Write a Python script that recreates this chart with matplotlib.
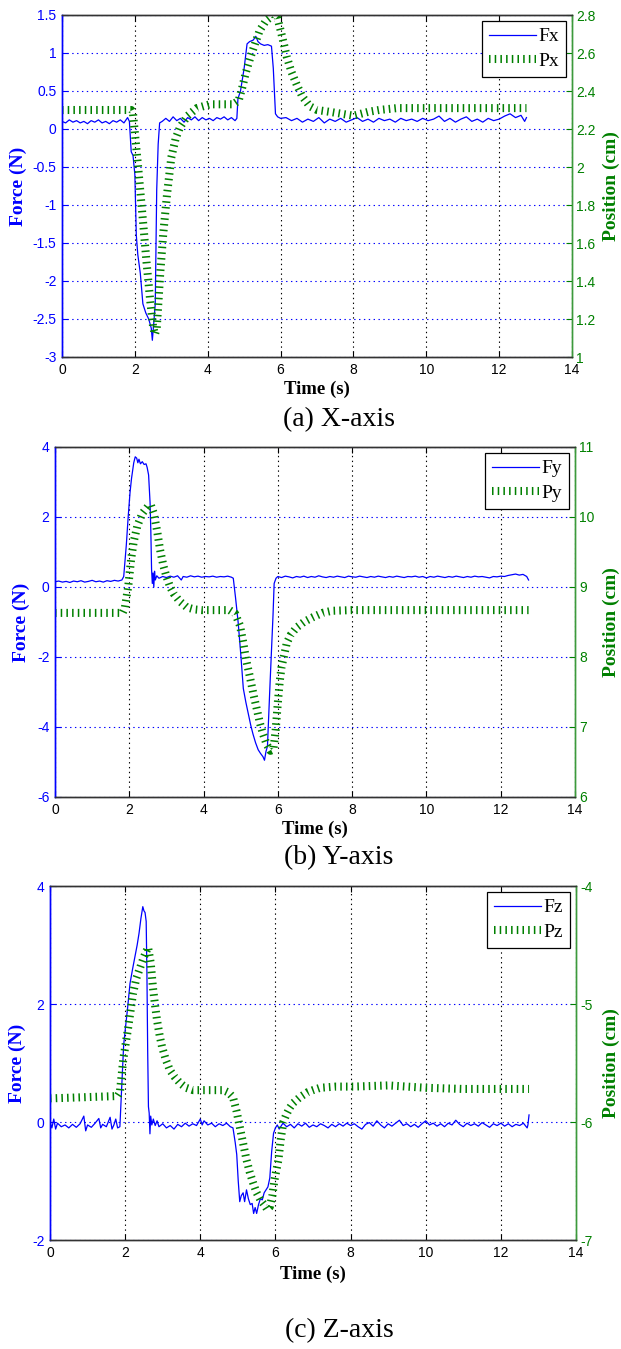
import matplotlib
matplotlib.use("Agg")
import matplotlib.pyplot as plt
from matplotlib.ticker import FuncFormatter
from matplotlib.lines import Line2D

plt.rcParams['axes.unicode_minus'] = False
plt.rcParams['lines.scale_dashes'] = False

# ---------------- data ----------------
time_ticks = [0, 2, 4, 6, 8, 10, 12, 14]

# (a) X-axis
fx_t = [0.00, 0.10, 0.20, 0.30, 0.40, 0.50, 0.60, 0.70, 0.80, 0.90, 1.00, 1.10, 1.20, 1.30, 1.40, 1.50,
        1.60, 1.70, 1.80, 1.85, 1.90, 1.95, 2.00, 2.04, 2.08, 2.15, 2.22, 2.30, 2.38, 2.45, 2.48, 2.52,
        2.56, 2.60, 2.64, 2.68, 2.75, 2.85, 2.95, 3.05, 3.15, 3.25, 3.35, 3.45, 3.55, 3.65, 3.75, 3.85,
        3.95, 4.05, 4.15, 4.25, 4.35, 4.45, 4.55, 4.65, 4.75, 4.80, 4.83, 4.90, 5.00, 5.08, 5.15, 5.25,
        5.32, 5.38, 5.45, 5.55, 5.65, 5.75, 5.80, 5.86, 5.92, 6.00, 6.15, 6.30, 6.45, 6.60, 6.75, 6.90,
        7.05, 7.20, 7.35, 7.50, 7.65, 7.80, 7.95, 8.10, 8.25, 8.40, 8.55, 8.70, 8.85, 9.00, 9.15, 9.30,
        9.45, 9.60, 9.75, 9.90, 10.05, 10.20, 10.35, 10.50, 10.65, 10.80, 10.95, 11.10, 11.25, 11.40,
        11.55, 11.70, 11.85, 12.00, 12.15, 12.30, 12.45, 12.60, 12.70, 12.75]
fx_v = [0.10, 0.08, 0.12, 0.09, 0.11, 0.08, 0.10, 0.07, 0.11, 0.09, 0.12, 0.08, 0.10, 0.07, 0.11, 0.09,
        0.12, 0.08, 0.15, 0.10, -0.30, -0.35, -0.60, -1.40, -1.65, -1.90, -2.30, -2.42, -2.50, -2.62, -2.78, -2.55,
        -2.30, -0.80, -0.20, 0.08, 0.10, 0.14, 0.10, 0.16, 0.11, 0.14, 0.09, 0.15, 0.12, 0.16, 0.11, 0.15,
        0.12, 0.14, 0.11, 0.15, 0.13, 0.16, 0.12, 0.15, 0.11, 0.14, 0.40, 0.50, 0.80, 1.12, 1.15, 1.17,
        1.22, 1.15, 1.12, 1.10, 1.11, 1.09, 0.80, 0.20, 0.16, 0.14, 0.15, 0.11, 0.14, 0.09, 0.13, 0.10,
        0.15, 0.08, 0.13, 0.10, 0.14, 0.09, 0.12, 0.15, 0.10, 0.13, 0.09, 0.14, 0.11, 0.13, 0.09, 0.14,
        0.11, 0.13, 0.10, 0.14, 0.11, 0.13, 0.17, 0.10, 0.14, 0.09, 0.13, 0.16, 0.10, 0.13,
        0.09, 0.14, 0.11, 0.13, 0.17, 0.20, 0.15, 0.18, 0.10, 0.15]
px_t = [0.00, 1.90, 1.95, 2.00, 2.09, 2.16, 2.23, 2.32, 2.42, 2.50, 2.55, 2.60, 2.65, 2.70, 2.78, 2.88,
        3.00, 3.12, 3.24, 3.45, 3.70, 4.06, 4.70, 4.85, 4.95, 5.05, 5.16, 5.30, 5.43, 5.60, 5.80, 5.92,
        6.00, 6.10, 6.17, 6.30, 6.45, 6.60, 6.80, 7.00, 7.36, 8.00, 8.40, 8.70, 9.20, 9.75, 12.75]
px_v = [2.30, 2.30, 2.28, 2.18, 2.00, 1.85, 1.70, 1.50, 1.30, 1.16, 1.12, 1.15, 1.30, 1.45, 1.65, 1.85,
        2.05, 2.15, 2.21, 2.27, 2.31, 2.33, 2.33, 2.35, 2.42, 2.50, 2.57, 2.65, 2.72, 2.77, 2.80, 2.78,
        2.72, 2.64, 2.58, 2.50, 2.43, 2.37, 2.32, 2.30, 2.29, 2.27, 2.29, 2.30, 2.31, 2.31, 2.31]

# (b) Y-axis
fy_t = [0.0, 0.1, 0.2, 0.3, 0.4, 0.5, 0.6, 0.7, 0.8, 0.9, 1.0, 1.1, 1.2, 1.3, 1.4, 1.5, 1.6, 1.7, 1.8,
        1.85, 1.92, 1.97, 2.02, 2.06, 2.12, 2.16, 2.20, 2.23, 2.26, 2.30, 2.35, 2.40, 2.45, 2.48, 2.52,
        2.56, 2.58, 2.60, 2.62, 2.64, 2.66, 2.68, 2.70, 2.74, 2.80, 2.90, 3.00, 3.10, 3.20, 3.30, 3.40,
        3.45, 3.55, 3.65, 3.75, 3.85, 3.95, 4.05, 4.15, 4.25, 4.35, 4.45, 4.55, 4.65, 4.75, 4.80, 4.86,
        4.93, 5.00, 5.07, 5.14, 5.20, 5.27, 5.33, 5.40, 5.47, 5.53, 5.60, 5.64, 5.68, 5.72, 5.76, 5.79,
        5.84, 5.87, 5.90, 5.95, 6.00, 6.1, 6.2, 6.3, 6.4, 6.5, 6.6, 6.7, 6.8, 6.9, 7.0, 7.1, 7.2, 7.3,
        7.4, 7.5, 7.6, 7.7, 7.8, 7.9, 8.0, 8.1, 8.2, 8.3, 8.4, 8.5, 8.6, 8.7, 8.8, 8.9, 9.0, 9.1, 9.2,
        9.3, 9.4, 9.5, 9.6, 9.7, 9.8, 9.9, 10.0, 10.1, 10.2, 10.3, 10.4, 10.5, 10.6, 10.7, 10.8, 10.9,
        11.0, 11.1, 11.2, 11.3, 11.4, 11.5, 11.6, 11.7, 11.8, 11.9, 12.0, 12.1, 12.2, 12.3, 12.4, 12.5,
        12.6, 12.7, 12.75]
fy_v = [0.15, 0.17, 0.14, 0.16, 0.13, 0.17, 0.15, 0.18, 0.14, 0.16, 0.19, 0.15, 0.17, 0.14, 0.18, 0.16, 0.19, 0.17, 0.20,
        0.30, 1.20, 2.00, 2.70, 3.10, 3.55, 3.72, 3.68, 3.55, 3.65, 3.52, 3.58, 3.50, 3.52, 3.42, 3.20,
        2.40, 1.60, 0.50, 0.10, 0.40, 0.00, 0.45, 0.20, 0.32, 0.25, 0.30, 0.27, 0.31, 0.28, 0.32, 0.20,
        0.30, 0.28, 0.32, 0.29, 0.31, 0.28, 0.30, 0.29, 0.31, 0.28, 0.30, 0.29, 0.31, 0.28, 0.25, -0.30,
        -1.00, -1.90, -2.90, -3.30, -3.60, -3.95, -4.20, -4.45, -4.65, -4.75, -4.85, -4.95, -4.70, -4.55, -3.50, -2.75,
        -1.50, -0.80, 0.10, 0.25, 0.30, 0.27, 0.31, 0.29, 0.26, 0.30, 0.28, 0.31, 0.27, 0.30, 0.28, 0.32, 0.29, 0.27,
        0.30, 0.28, 0.31, 0.29, 0.27, 0.31, 0.29, 0.28, 0.31, 0.29, 0.27, 0.30, 0.28, 0.31, 0.29, 0.27, 0.30, 0.28, 0.31,
        0.29, 0.27, 0.30, 0.29, 0.31, 0.28, 0.30, 0.26, 0.30, 0.28, 0.31, 0.29, 0.27, 0.30, 0.28, 0.31, 0.29,
        0.27, 0.30, 0.28, 0.31, 0.29, 0.30, 0.28, 0.26, 0.30, 0.29, 0.31, 0.30, 0.33, 0.35, 0.37, 0.34,
        0.36, 0.30, 0.20]
py_t = [0.00, 1.82, 1.88, 1.97, 2.05, 2.12, 2.22, 2.35, 2.50, 2.58, 2.66, 2.75, 2.83, 2.92, 3.00, 3.10,
        3.20, 3.35, 3.55, 3.75, 3.95, 4.70, 4.85, 4.98, 5.07, 5.15, 5.25, 5.35, 5.44, 5.52, 5.60, 5.70,
        5.80, 5.88, 5.94, 6.00, 6.05, 6.10, 6.18, 6.24, 6.35, 6.50, 6.70, 6.95, 7.20, 7.45, 8.00, 12.75]
py_v = [8.63, 8.63, 8.70, 9.00, 9.40, 9.65, 9.88, 10.05, 10.15, 10.17, 10.05, 9.80, 9.53, 9.30, 9.15, 9.00,
        8.90, 8.80, 8.71, 8.68, 8.67, 8.67, 8.62, 8.45, 8.20, 7.95, 7.71, 7.45, 7.24, 7.05, 6.90, 6.75,
        6.66, 6.68, 6.95, 7.35, 7.65, 7.86, 8.05, 8.20, 8.32, 8.42, 8.50, 8.57, 8.63, 8.66, 8.67, 8.67]

# (c) Z-axis
fz_t = [0.00, 0.05, 0.10, 0.15, 0.20, 0.30, 0.40, 0.50, 0.60, 0.70, 0.80, 0.90, 0.95, 1.00, 1.10, 1.20,
        1.30, 1.35, 1.40, 1.50, 1.60, 1.65, 1.70, 1.75, 1.80, 1.86, 1.91, 1.96, 2.00, 2.06, 2.13, 2.20,
        2.26, 2.32, 2.37, 2.42, 2.47, 2.50, 2.53, 2.56, 2.58, 2.60, 2.62, 2.64, 2.66, 2.68, 2.71, 2.75,
        2.80, 2.85, 2.90, 3.00, 3.10, 3.20, 3.30, 3.40, 3.50, 3.60, 3.70, 3.80, 3.90, 4.00, 4.05, 4.10,
        4.20, 4.30, 4.40, 4.50, 4.60, 4.70, 4.80, 4.87, 4.93, 4.97, 5.01, 5.05, 5.09, 5.14, 5.18, 5.23,
        5.28, 5.33, 5.38, 5.42, 5.46, 5.50, 5.55, 5.60, 5.65, 5.70, 5.75, 5.80, 5.85, 5.90, 5.95, 6.00,
        6.05, 6.1, 6.2, 6.3, 6.4, 6.5, 6.6, 6.7, 6.8, 6.9, 7.0, 7.1, 7.2, 7.3, 7.4, 7.5, 7.6, 7.7, 7.8,
        7.9, 8.0, 8.1, 8.2, 8.3, 8.4, 8.5, 8.6, 8.7, 8.8, 8.9, 9.0, 9.1, 9.2, 9.3, 9.4, 9.5, 9.6, 9.7,
        9.8, 9.9, 10.0, 10.1, 10.2, 10.3, 10.4, 10.5, 10.6, 10.7, 10.8, 10.9, 11.0, 11.1, 11.2, 11.3,
        11.4, 11.5, 11.6, 11.7, 11.8, 11.9, 12.0, 12.1, 12.2, 12.3, 12.4, 12.5, 12.6, 12.7, 12.72, 12.75]
fz_v = [0.00, -0.10, 0.05, -0.12, -0.02, -0.08, -0.05, -0.10, -0.04, -0.09, -0.03, 0.10, -0.15, -0.05, -0.09, -0.02,
        0.06, -0.10, -0.04, -0.08, 0.08, -0.12, -0.05, 0.05, -0.10, -0.08, 0.60, 1.30, 1.55, 1.90, 2.35, 2.60,
        2.80, 3.00, 3.20, 3.45, 3.65, 3.58, 3.55, 3.40, 2.50, 1.20, 0.26, 0.15, -0.20, 0.10, -0.05, 0.05,
        -0.06, 0.02, -0.08, -0.03, -0.10, -0.06, -0.12, -0.04, -0.08, -0.02, -0.07, -0.03, -0.06, 0.05, -0.05, 0.02,
        -0.05, -0.02, -0.08, -0.03, -0.06, -0.02, -0.08, -0.10, -0.35, -0.55, -1.00, -1.35, -1.25, -1.20, -1.35, -1.15,
        -1.30, -1.40, -1.38, -1.55, -1.45, -1.55, -1.40, -1.30, -1.32, -1.20, -1.15, -1.10, -0.95, -0.50, -0.19, -0.10,
        -0.05, -0.12, -0.02, -0.08, -0.04, -0.10, -0.03, -0.07, -0.02, -0.09, -0.05, -0.08, -0.03, -0.06, -0.10, -0.04, -0.08, -0.03, -0.07,
        -0.02, -0.06, -0.03, -0.08, -0.12, -0.04, -0.01, -0.07, 0.02, -0.05, -0.10, -0.03, -0.07, -0.02, 0.03, -0.06, -0.03, -0.08, -0.04,
        -0.09, -0.03, 0.02, -0.05, -0.02, -0.07, -0.03, -0.08, -0.02, -0.05, 0.03, -0.04, -0.08, -0.02, -0.06, -0.03,
        -0.07, -0.01, -0.05, -0.09, -0.03, -0.06, -0.02, -0.07, -0.03, -0.08, -0.04, -0.06, -0.02, -0.10, -0.05, 0.12]
pz_t = [0.00, 1.80, 1.86, 1.95, 2.08, 2.21, 2.30, 2.40, 2.50, 2.61, 2.68, 2.74, 2.80, 2.85, 2.92, 2.98,
        3.08, 3.19, 3.32, 3.46, 3.62, 3.81, 4.61, 4.75, 4.87, 4.96, 5.05, 5.14, 5.23, 5.32, 5.41, 5.50,
        5.60, 5.70, 5.78, 5.85, 5.92, 5.97, 6.03, 6.08, 6.14, 6.21, 6.30, 6.38, 6.47, 6.65, 6.84, 7.00,
        7.19, 7.60, 8.07, 9.00, 10.00, 11.00, 12.75]
pz_v = [-5.80, -5.78, -5.75, -5.47, -5.20, -4.91, -4.78, -4.69, -4.60, -4.52, -4.65, -4.86, -5.02, -5.14, -5.27, -5.36,
        -5.47, -5.56, -5.62, -5.67, -5.71, -5.73, -5.73, -5.75, -5.79, -5.90, -6.04, -6.18, -6.32, -6.43, -6.52, -6.60,
        -6.66, -6.70, -6.74, -6.72, -6.62, -6.50, -6.40, -6.32, -6.15, -6.00, -5.93, -5.88, -5.84, -5.79, -5.75, -5.73,
        -5.71, -5.70, -5.70, -5.69, -5.71, -5.72, -5.72]

panels = [
    dict(ft=fx_t, fv=fx_v, pt=px_t, pv=px_v, fname='Fx', pname='Px',
         flim=(-3, 1.5), fticks=[-3, -2.5, -2, -1.5, -1, -0.5, 0, 0.5, 1, 1.5],
         plim=(1, 2.8), pticks=[1, 1.2, 1.4, 1.6, 1.8, 2, 2.2, 2.4, 2.6, 2.8],
         caption='(a) X-axis', box=(62, 15, 572, 357), cap_y=420,
         flab_x=18, plab_x=611, xlab_top=381),
    dict(ft=fy_t, fv=fy_v, pt=py_t, pv=py_v, fname='Fy', pname='Py',
         flim=(-6, 4), fticks=[-6, -4, -2, 0, 2, 4],
         plim=(6, 11), pticks=[6, 7, 8, 9, 10, 11],
         caption='(b) Y-axis', box=(55, 447, 575, 797), cap_y=858,
         flab_x=21, plab_x=611, xlab_top=821),
    dict(ft=fz_t, fv=fz_v, pt=pz_t, pv=pz_v, fname='Fz', pname='Pz',
         flim=(-2, 4), fticks=[-2, 0, 2, 4],
         plim=(-7, -4), pticks=[-7, -6, -5, -4],
         caption='(c) Z-axis', box=(50, 886, 576, 1240), cap_y=1331,
         flab_x=17, plab_x=611, xlab_top=1266),
]

W, H = 621, 1349
BLUE = '#0000ff'
GREEN = '#008000'
GSPINE = '#3c9a3c'
SANS = 'Liberation Sans'
SERIF = 'Liberation Serif'
fmt = FuncFormatter(lambda v, p: '%g' % v)

fig = plt.figure(figsize=(W / 100, H / 100), dpi=100)

for P in panels:
    x0, y0, x1, y1 = P['box']
    ax = fig.add_axes([x0 / W, 1 - y1 / H, (x1 - x0) / W, (y1 - y0) / H])
    ax2 = ax.twinx()

    ax.plot(P['ft'], P['fv'], color=BLUE, lw=0.9, zorder=3)
    ax2.plot(P['pt'], P['pv'], color=GREEN, lw=5.8, dashes=(1.1, 3.0),
             dash_capstyle='butt', solid_capstyle='butt', zorder=2)

    ax.set_xlim(0, 14)
    ax.set_ylim(*P['flim'])
    ax2.set_ylim(*P['plim'])
    ax.set_xticks(time_ticks)
    ax.set_yticks(P['fticks'])
    ax2.set_yticks(P['pticks'])
    ax.yaxis.set_major_formatter(fmt)
    ax2.yaxis.set_major_formatter(fmt)
    ax.xaxis.set_major_formatter(fmt)

    # grid: y grid blue dotted, x grid black dotted
    ax.grid(True, axis='y', color=BLUE, linestyle=(0, (1, 2.5)), lw=0.8)
    ax.grid(True, axis='x', color='black', linestyle=(0, (1, 2.5)), lw=0.8)
    ax.set_axisbelow(True)

    for a in (ax, ax2):
        a.spines['top'].set_color('#333333')
        a.spines['bottom'].set_color('#333333')
        a.spines['left'].set_color(BLUE)
        a.spines['right'].set_color(GSPINE)
        for s in a.spines.values():
            s.set_linewidth(1.0)

    ax.tick_params(axis='x', direction='in', top=True, bottom=True, length=4,
                   labelsize=10, colors='black', pad=4)
    ax.tick_params(axis='y', direction='in', left=True, right=False, length=4,
                   labelsize=10, colors=BLUE, pad=4)
    ax2.tick_params(axis='y', direction='in', right=True, left=False, length=4,
                    labelsize=10, colors=GREEN, pad=3)
    for lab in ax.get_xticklabels() + ax.get_yticklabels() + ax2.get_yticklabels():
        lab.set_fontfamily(SANS)

    ax.set_xlabel('Time (s)', fontfamily=SERIF, fontweight='bold', fontsize=13.5, color='black')
    ax.xaxis.set_label_coords(0.5, -(P['xlab_top'] - y1) / (y1 - y0))
    ax.set_ylabel('Force (N)', fontfamily=SERIF, fontweight='bold', fontsize=14, color=BLUE,
                  va='center')
    ax.yaxis.set_label_coords((P['flab_x'] - x0) / (x1 - x0), 0.5)
    ax2.set_ylabel('Position (cm)', fontfamily=SERIF, fontweight='bold', fontsize=14, color=GREEN,
                   rotation=90, va='center')
    ax2.yaxis.set_label_coords((P['plab_x'] - x0) / (x1 - x0), 0.5)

    handles = [Line2D([], [], color=BLUE, lw=0.9),
               Line2D([], [], color=GREEN, lw=5.8, dashes=(1.1, 3.0), dash_capstyle='butt')]
    leg = ax2.legend(handles, [P['fname'], P['pname']], loc='upper right',
                     bbox_to_anchor=(1 - 6 / (x1 - x0), 1 - 6 / (y1 - y0)),
                     prop={'family': SERIF, 'size': 14}, frameon=True, fancybox=False,
                     framealpha=1, edgecolor='black', handlelength=2.4, handletextpad=0.15,
                     borderpad=0.35, labelspacing=0.35, borderaxespad=0)
    leg.get_frame().set_linewidth(0.9)

    fig.text(339 / W, 1 - P['cap_y'] / H, P['caption'], ha='center', va='center',
             fontfamily=SERIF, fontsize=20, color='black')

fig.savefig('out.png', dpi=100)
